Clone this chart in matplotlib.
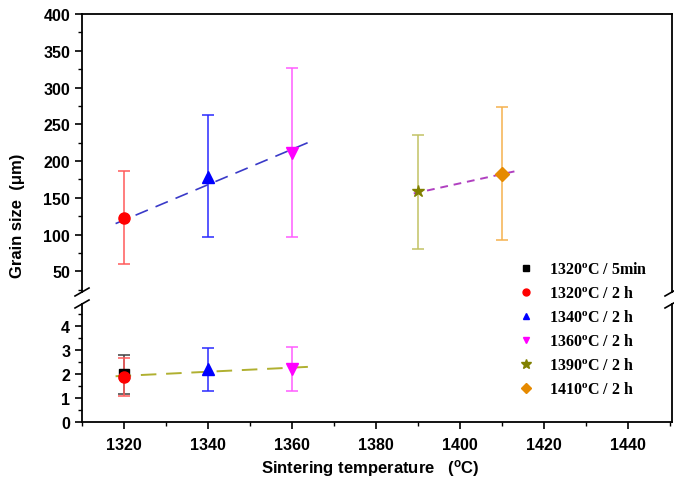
import matplotlib
matplotlib.use("Agg")
import matplotlib.pyplot as plt
from matplotlib.ticker import MultipleLocator
from matplotlib.lines import Line2D

# ---- data ----
labels = ["1320$\\mathregular{^o}$C / 5min", "1320$\\mathregular{^o}$C / 2 h",
          "1340$\\mathregular{^o}$C / 2 h", "1360$\\mathregular{^o}$C / 2 h",
          "1390$\\mathregular{^o}$C / 2 h", "1410$\\mathregular{^o}$C / 2 h"]
markers = ["s", "o", "^", "v", "*", "D"]
colors = ["#000000", "#ff0000", "#0000ff", "#ff00ff", "#808000", "#e68a00"]
err_colors = ["#404040", "#ff5a5a", "#2a2aff", "#ff5cff", "#c2c264", "#f5b24e"]

# upper panel (large grains, um)
top_idx = [1, 2, 3, 4, 5]
top_x = [1320, 1340, 1360, 1390, 1410]
top_y = [123, 178, 211, 159, 182]
top_lo = [60, 97, 97, 81, 93]
top_hi = [186, 262, 326, 236, 273]

# lower panel (small grains, um)
bot_idx = [0, 1, 2, 3]
bot_x = [1320, 1320, 1340, 1360]
bot_y = [2.0, 1.85, 2.2, 2.2]
bot_lo = [1.18, 1.1, 1.3, 1.3]
bot_hi = [2.78, 2.65, 3.08, 3.12]

# dashed trend lines (endpoints)
fit1_x = [1318, 1365]; fit1_y = [115, 228]
fit2_x = [1389, 1413]; fit2_y = [156, 186]
fit3_x = [1318, 1365]; fit3_y = [1.9, 2.3]

xticks = [1320, 1340, 1360, 1380, 1400, 1420, 1440]

fig = plt.figure(figsize=(6.74, 4.85), dpi=100)
W, H = 674, 485
def rect(l, t, r, b):
    return [l / W, 1 - b / H, (r - l) / W, (b - t) / H]

ax_t = fig.add_axes(rect(82, 15, 672, 293))
ax_b = fig.add_axes(rect(82, 305, 672, 423))

for ax in (ax_t, ax_b):
    ax.set_xlim(1310, 1450.5)
    ax.xaxis.set_major_locator(MultipleLocator(20))
    ax.xaxis.set_minor_locator(MultipleLocator(10))
    ax.tick_params(which="both", direction="out", top=False, right=False)
    ax.tick_params(which="major", length=5, width=1.2)
    ax.tick_params(which="minor", length=3, width=1.0)
    for s in ax.spines.values():
        s.set_linewidth(1.3)

ax_t.set_ylim(22, 400)
ax_t.yaxis.set_major_locator(MultipleLocator(50))
ax_t.yaxis.set_minor_locator(MultipleLocator(25))
ax_t.set_yticks([50, 100, 150, 200, 250, 300, 350, 400])
ax_t.spines["bottom"].set_visible(False)
ax_t.tick_params(axis="x", which="both", bottom=False, labelbottom=False)

ax_b.set_ylim(0, 4.9)
ax_b.set_yticks([0, 1, 2, 3, 4])
ax_b.yaxis.set_minor_locator(MultipleLocator(0.5))
ax_b.spines["top"].set_visible(False)
ax_b.set_xticks(xticks)
ax_b.set_xticklabels([str(v) for v in xticks])

for ax in (ax_t, ax_b):
    for lab in ax.get_xticklabels() + ax.get_yticklabels():
        lab.set_fontfamily("Liberation Sans")
        lab.set_fontweight("bold")
        lab.set_fontsize(11.5)
ax_b.tick_params(axis="x", pad=6)

# data - top
for i, x, y, lo, hi in zip(top_idx, top_x, top_y, top_lo, top_hi):
    ax_t.errorbar([x], [y], yerr=[[y - lo], [hi - y]], fmt="none",
                  ecolor=err_colors[i], elinewidth=1.1, capsize=4, capthick=1.1)
for i, x, y in zip(top_idx, top_x, top_y):
    ms = 9 if markers[i] == "*" else (7 if markers[i] == "D" else 8)
    ax_t.plot([x], [y], marker=markers[i], color=colors[i], ms=ms, ls="none",
              mec=colors[i], zorder=5)
ax_t.plot(fit1_x, fit1_y, ls=(0, (8, 5)), color="#3a3ac8", lw=1.2, zorder=4)
ax_t.plot(fit2_x, fit2_y, ls=(0, (4, 3)), color="#b040c0", lw=1.4, zorder=4)

# data - bottom
for i, x, y, lo, hi in zip(bot_idx, bot_x, bot_y, bot_lo, bot_hi):
    ax_b.errorbar([x], [y], yerr=[[y - lo], [hi - y]], fmt="none",
                  ecolor=err_colors[i], elinewidth=1.1, capsize=4, capthick=1.1)
for i, x, y in zip(bot_idx, bot_x, bot_y):
    ms = 7 if markers[i] == "s" else 8
    ax_b.plot([x], [y], marker=markers[i], color=colors[i], ms=ms, ls="none",
              mec=colors[i], zorder=5)
ax_b.plot(fit3_x, fit3_y, ls=(0, (8, 5)), color="#b0b030", lw=1.4, zorder=4)

# break marks
for xa in (82, 672):
    for yb in (293, 305):
        x0, x1 = (xa - 7) / W, (xa + 7) / W
        y0, y1 = 1 - (yb + 4) / H, 1 - (yb - 4) / H
        fig.add_artist(Line2D([x0, x1], [y0, y1], color="black", lw=1.2))

# labels
fig.text(18 / W, 1 - 216 / H, "Grain size  (\u03bcm)", rotation=90, ha="center",
         va="center", family="Liberation Sans", weight="bold", size=12)
fig.text(370 / W, 1 - 469 / H, "Sintering temperature   ($\\mathregular{^o}$C)",
         ha="center", va="center", family="Liberation Sans", weight="bold", size=12)

# legend
handles = [Line2D([], [], marker=markers[i], color=colors[i], ls="none",
                  ms=(7 if markers[i] == "*" else 5)) for i in range(6)]
leg = fig.legend(handles, labels, loc="upper left",
                 bbox_to_anchor=(512 / W, 1 - 256 / H), frameon=False,
                 prop=dict(family="Liberation Serif", weight="bold", size=11.5),
                 handlelength=1.0, handletextpad=0.9, labelspacing=0.5,
                 borderaxespad=0)

fig.savefig("out.png", dpi=100)
